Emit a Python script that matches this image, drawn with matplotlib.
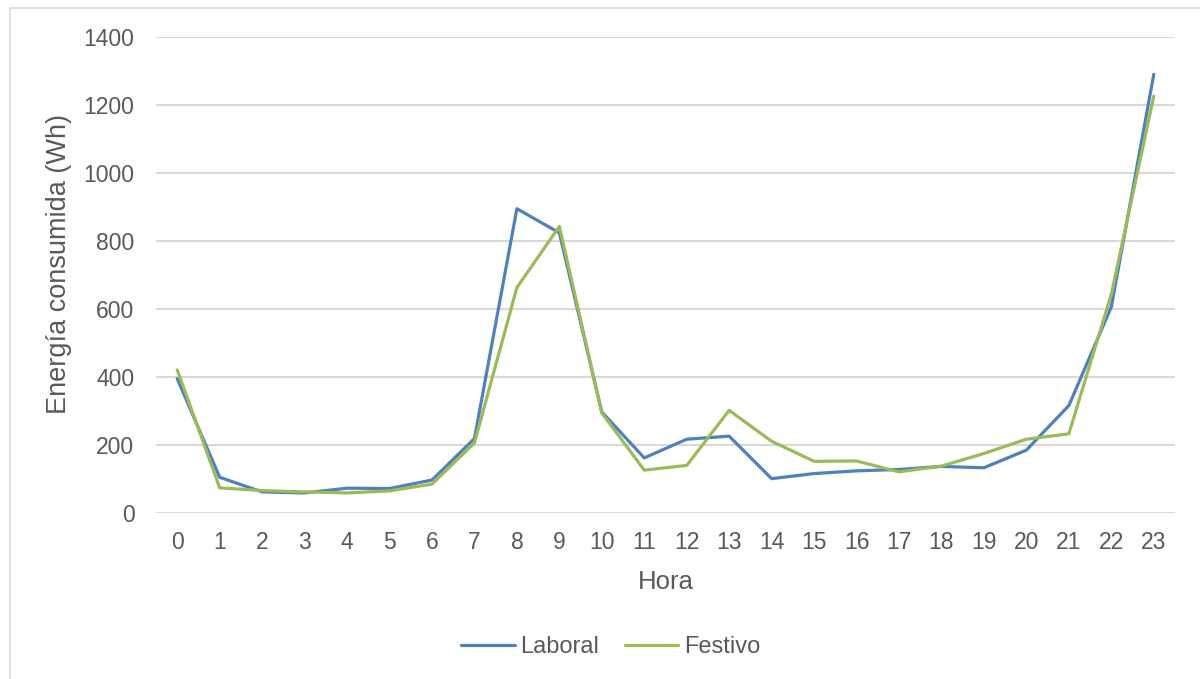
import matplotlib
matplotlib.use("Agg")
import matplotlib.pyplot as plt
from matplotlib.patches import Rectangle

# Hourly energy consumption (Wh) for working days and holidays
horas = list(range(24))
laboral = [395, 105, 62, 59, 73, 72, 97, 219, 895, 824, 297, 162,
           217, 226, 101, 116, 124, 128, 137, 133, 185, 316, 606, 1290]
festivo = [421, 74, 66, 62, 59, 65, 85, 206, 663, 843, 294, 126,
           140, 302, 211, 152, 153, 121, 138, 175, 217, 233, 643, 1226]
yticks = [0, 200, 400, 600, 800, 1000, 1200, 1400]

TEXT = "#595959"
GRID = "#D9D9D9"
BLUE = "#4F81BD"
GREEN = "#9BBB59"

plt.rcParams["font.family"] = ["Liberation Sans", "DejaVu Sans"]

fig = plt.figure(figsize=(12, 6.79), dpi=100)
fig.patch.set_facecolor("white")

# chart-area border
fig.add_artist(Rectangle((10 / 1200, -0.01), 1.2, 1 - 8 / 679 + 0.01,
                         transform=fig.transFigure, fill=False,
                         edgecolor=GRID, linewidth=1.2))

ax = fig.add_axes([156 / 1200, 1 - 513 / 679, (1175 - 156) / 1200, (513 - 37) / 679])

ax.plot(horas, laboral, color=BLUE, lw=2.3, label="Laboral",
        solid_joinstyle="round", solid_capstyle="round", zorder=3)
ax.plot(horas, festivo, color=GREEN, lw=2.3, label="Festivo",
        solid_joinstyle="round", solid_capstyle="round", zorder=4)

ax.set_xlim(-0.5, 23.5)
ax.set_ylim(0, 1400)
ax.set_xticks(horas)
ax.set_xticklabels([str(h) for h in horas])
ax.set_yticks(yticks)
ax.set_yticklabels([str(v) for v in yticks])

ax.grid(axis="y", color=GRID, linewidth=1.5)
ax.set_axisbelow(True)
for s in ax.spines.values():
    s.set_visible(False)

ax.tick_params(axis="both", length=0, labelsize=16.5, labelcolor=TEXT)
ax.tick_params(axis="x", pad=13)
ax.tick_params(axis="y", pad=15.5)

ax.set_xlabel("Hora", fontsize=18.5, color=TEXT, va="center")
ax.xaxis.set_label_coords(0.5, -0.145)
ax.set_ylabel("Energía consumida (Wh)", fontsize=19.5, color=TEXT, va="center")
ax.yaxis.set_label_coords((59.5 - 156) / 1019, 0.523)

fig.legend(loc="center", bbox_to_anchor=(611 / 1200, 1 - 647 / 679),
           ncol=2, frameon=False, fontsize=17, labelcolor=TEXT,
           handlelength=2.25, handletextpad=0.25, columnspacing=1.1)

fig.savefig("out.png", dpi=100, facecolor="white")
